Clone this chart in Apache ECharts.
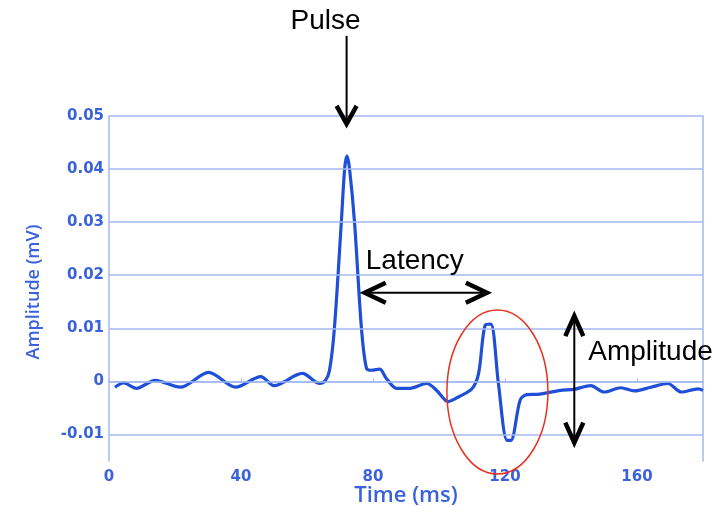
<!DOCTYPE html>
<html>
<head>
<meta charset="utf-8">
<script src="https://cdn.jsdelivr.net/npm/echarts@6/dist/echarts.min.js"></script>
<style>
  html, body { margin: 0; padding: 0; background: #fff; }
  #main { width: 728px; height: 506px; }
</style>
</head>
<body>
<div id="main"></div>
<script>
var timeMs = [1.8, 4.4, 8.3, 14, 21.6, 30.2, 38.4, 46, 50, 58.6, 63.8, 65.5, 66.8, 68.3, 70.4, 71.4, 72.1, 72.9, 74.4, 76.5,
  78, 79.5, 82, 84, 87.1, 91.2, 96.3, 99.3, 102.8, 106, 110, 112, 114, 115.7, 118, 120.6, 121.8, 124.6, 126.6, 130.5,
  136.8, 140.9, 146, 150, 155.1, 159.2, 164.2, 169.4, 173.4, 178.5, 180];
var amplitude = [-0.0011, -0.0003, -0.0013, 0.0002, -0.0011, 0.0017, -0.0011, 0.0009, -0.0008, 0.0015, -0.0004, 0.0001, 0.002, 0.01, 0.03, 0.04, 0.0425, 0.04, 0.03, 0.01,
  0.0025, 0.0021, 0.0023, 0.0006, -0.0013, -0.0013, -0.0004, -0.0017, -0.0038, -0.0029, -0.0014, 0.0015, 0.0106, 0.0108, -0.0004, -0.0111, -0.0111, -0.0035, -0.0025, -0.0024,
  -0.0017, -0.0015, -0.0008, -0.002, -0.0012, -0.0018, -0.0011, -0.0004, -0.002, -0.0014, -0.0017];
var gridValues = [0.05, 0.04, 0.03, 0.02, 0.01, 0, -0.01];

var blue = '#3a62dc';
var gridBlue = '#a3b9f2';

let myChart = echarts.init(document.getElementById('main'));

let option = {
  animation: false,
  grid: { left: 109, right: 25, top: 116, bottom: 45, containLabel: false, outerBoundsMode: 'none' },
  xAxis: {
    type: 'value',
    min: 0,
    max: 180,
    interval: 40,
    name: 'Time (ms)',
    nameLocation: 'middle',
    nameGap: 24,
    nameMoveOverlap: false,
    nameTextStyle: { color: blue, fontSize: 22, fontFamily: 'Open Sans', fontWeight: 600 },
    axisLine: { lineStyle: { color: gridBlue, width: 1.5 } },
    axisTick: { inside: true, length: 3, lineStyle: { color: gridBlue } },
    axisLabel: { showMaxLabel: false, color: blue, fontWeight: 'bold', fontSize: 15, fontFamily: 'DejaVu Sans', margin: 9 },
    splitLine: { show: false }
  },
  yAxis: [{
    type: 'value',
    min: -0.015,
    max: 0.05,
    interval: 0.005,
    name: 'Amplitude (mV)',
    nameLocation: 'middle',
    nameGap: 66,
    nameTextStyle: { color: blue, fontSize: 18, fontFamily: 'Open Sans', fontWeight: 600, padding: [0, 7, 0, 0] },
    axisLine: { show: true, lineStyle: { color: gridBlue, width: 1.5 } },
    axisTick: { show: false },
    splitLine: { show: false },
    axisLabel: {
      color: blue, fontWeight: 'bold', fontSize: 15, fontFamily: 'DejaVu Sans', margin: 5,
      formatter: function (v) {
        var k = Math.round(v * 1000);
        if (k % 10 !== 0) return '';
        if (k === 0) return '0';
        return (k / 1000).toFixed(2);
      }
    }
  }, {
    type: 'value',
    position: 'right',
    min: -0.015,
    max: 0.05,
    interval: 0.005,
    axisLine: { show: true, lineStyle: { color: gridBlue, width: 1.5 } },
    axisTick: { show: false },
    axisLabel: { show: false },
    splitLine: { show: false }
  }],
  series: [{
    type: 'line',
    xAxisIndex: 0,
    yAxisIndex: 0,
    data: timeMs.map(function (t, i) { return [t, amplitude[i]]; }),
    showSymbol: false,
    smooth: 0.3,
    lineStyle: { color: '#1f4fd6', width: 3.2 },
    markLine: {
      silent: true,
      symbol: 'none',
      label: { show: false },
      lineStyle: { color: gridBlue, type: 'solid', width: 1.5 },
      data: gridValues.map(function (v) { return { yAxis: v }; })
    },
    z: 3
  }]
};

myChart.setOption(option);

// annotations placed from data coordinates
function px(t, v) { return myChart.convertToPixel({ seriesIndex: 0 }, [t, v]); }
function seg(pts, w, color) {
  return { type: 'polyline', shape: { points: pts }, style: { stroke: color || '#000', lineWidth: w, fill: null }, z: 10 };
}
function label(text, x, y, align) {
  return { type: 'text', x: x, y: y, style: { text: text, font: '28px "Liberation Sans"', fill: '#000', align: align, verticalAlign: 'middle' }, z: 10 };
}

var p1 = px(72, 0.0651), p2 = px(72, 0.0485);
var a = px(77.5, 0.0167), b = px(114.5, 0.0167);
var c = px(141, 0.0123), d = px(141, -0.01155);
var e = px(117.7, -0.002);

myChart.setOption({
  graphic: [
    seg([p1, p2], 2),
    seg([[p2[0] - 10, p2[1] - 18], p2, [p2[0] + 10, p2[1] - 18]], 4.5),
    label('Pulse', p1[0] - 21, 21, 'center'),

    seg([a, b], 2),
    seg([[a[0] + 21, a[1] - 10], a, [a[0] + 21, a[1] + 10]], 4.5),
    seg([[b[0] - 21, b[1] - 10], b, [b[0] - 21, b[1] + 10]], 4.5),
    label('Latency', a[0] + 1, a[1] - 31, 'left'),

    seg([c, d], 2),
    seg([[c[0] - 9, c[1] + 20], c, [c[0] + 9, c[1] + 20]], 4.5),
    seg([[d[0] - 9, d[1] - 20], d, [d[0] + 9, d[1] - 20]], 4.5),
    label('Amplitude', c[0] + 14, (c[1] + d[1]) / 2 - 27, 'left'),

    { type: 'ellipse', shape: { cx: e[0], cy: e[1], rx: 50.5, ry: 82 }, style: { fill: null, stroke: '#e8321e', lineWidth: 1.5 }, z: 10 }
  ]
});
</script>
</body>
</html>
